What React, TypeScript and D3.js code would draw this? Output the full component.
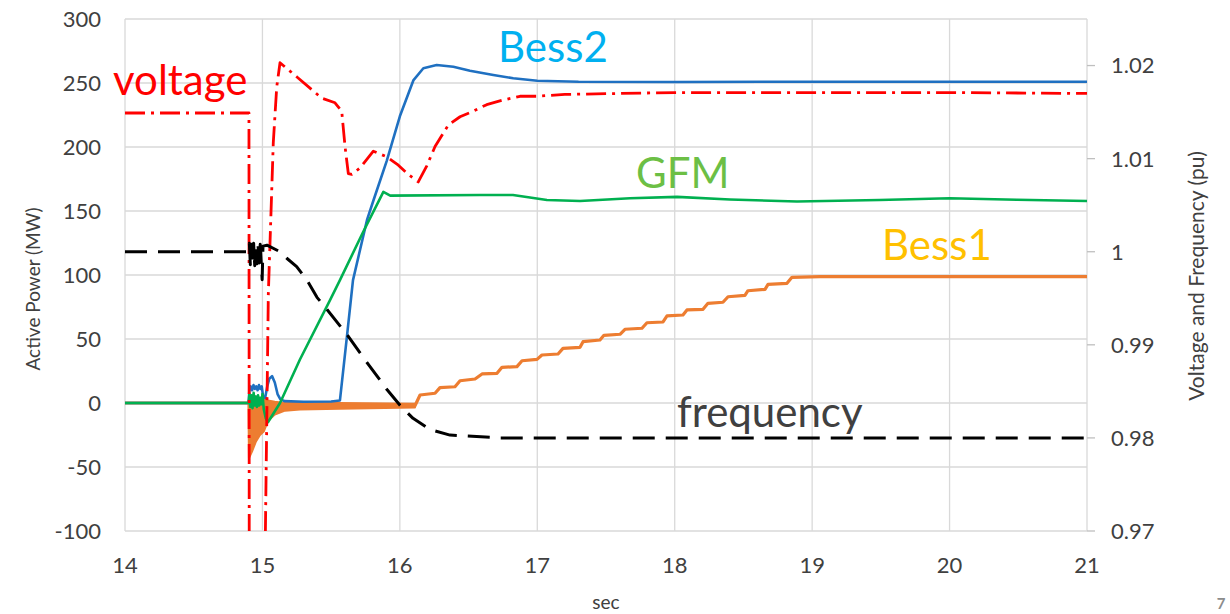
import * as d3 from "d3";

// seconds -> MW (left axis)
const bess2: [number, number][] = [
  [14, 0], [14.9, 0], [14.905, 10], [14.915, 13], [14.925, 10], [14.935, 14], [14.945, 11],
  [14.955, 13], [14.965, 10], [14.975, 14], [14.985, 11], [14.995, 13], [15.005, 5], [15.02, 4],
  [15.035, 13], [15.05, 19], [15.07, 21], [15.09, 16], [15.11, 7], [15.13, 3], [15.16, 1.5],
  [15.3, 1], [15.5, 1.2], [15.564, 2], [15.615, 52], [15.659, 96], [15.761, 143], [15.807, 158],
  [15.904, 189], [16.0, 224], [16.098, 252], [16.171, 261.5], [16.268, 264], [16.389, 262.7],
  [16.51, 259.6], [16.68, 256.3], [16.825, 253.7], [17.0, 251.8], [17.3, 251], [18, 250.8],
  [19, 251], [20, 251], [21, 251],
];

const gfm: [number, number][] = [
  [14, 0], [14.9, 0], [14.905, 7], [14.912, -3], [14.92, 6], [14.928, -4], [14.936, 8],
  [14.944, -2], [14.952, 5], [14.96, -3], [14.968, 6], [14.976, -2], [14.984, 4], [14.992, -1],
  [15.0, 7], [15.01, -5], [15.025, -12], [15.04, -15], [15.128, 0], [15.273, 34], [15.49, 80],
  [15.564, 96], [15.73, 133], [15.88, 165], [15.93, 162], [16.583, 162.5], [16.823, 162.5],
  [17.07, 158.6], [17.311, 157.8], [17.675, 160], [18.017, 161], [18.402, 159], [18.89, 157.4],
  [19.49, 158.6], [20.0, 160], [20.49, 158.8], [21, 157.8],
];

const bess1: [number, number][] = [
  [14, 0], [14.898, 0], [15.164, -3], [16.11, -2.1], [16.147, 6.25], [16.256, 7.6], [16.292, 12.0],
  [16.401, 12.7], [16.438, 17.4], [16.547, 18.75], [16.598, 22.7], [16.707, 23.2], [16.743, 27.9],
  [16.852, 28.4], [16.889, 33.0], [16.998, 34.1], [17.034, 37.5], [17.151, 38.3], [17.187, 42.7],
  [17.311, 43.5], [17.333, 47.9], [17.456, 49.2], [17.485, 52.9], [17.602, 53.7], [17.638, 57.6],
  [17.762, 58.4], [17.798, 62.7], [17.915, 63.3], [17.944, 68.0], [18.06, 68.75], [18.089, 72.7],
  [18.206, 73.2], [18.242, 77.9], [18.351, 78.7], [18.388, 83.0], [18.511, 84.1], [18.533, 87.7],
  [18.657, 88.8], [18.679, 92.7], [18.817, 93.5], [18.853, 98.2], [19.057, 98.7], [21, 98.7],
];

// noisy envelope of Bess1 right after the fault: [sec, low, high]
const bess1Noise: [number, number, number][] = [
  [14.898, 0, 0], [14.902, -43, 3], [14.924, -38, 5], [14.953, -30, 5], [14.982, -25, 4],
  [15.011, -22, 3], [15.04, -14, 2], [15.09, -9, 1], [15.164, -6, 0], [15.273, -5, 0],
  [15.56, -4.5, 0], [16.11, -3.5, -0.5],
];

// seconds -> pu (right axis)
const voltage: [number, number][] = [
  [14, 1.0149], [14.902, 1.0149], [14.904, 0.968], [15.02, 0.968], [15.043, 0.9955],
  [15.079, 1.0117], [15.104, 1.0177], [15.128, 1.0203], [15.249, 1.0188], [15.431, 1.0165],
  [15.528, 1.016], [15.577, 1.0151], [15.601, 1.0113], [15.625, 1.0084], [15.65, 1.0083],
  [15.71, 1.009], [15.807, 1.0108], [15.904, 1.0102], [15.989, 1.0093], [16.061, 1.0083],
  [16.134, 1.0075], [16.195, 1.0092], [16.256, 1.0113], [16.352, 1.0136], [16.438, 1.0145],
  [16.534, 1.0151], [16.632, 1.0158], [16.753, 1.0163], [16.874, 1.0167], [16.996, 1.0167],
  [17.2, 1.0169], [17.6, 1.017], [18, 1.0171], [19, 1.0171], [20, 1.0171], [21, 1.017],
];

const frequency: [number, number][] = [
  [14, 1.0], [14.9, 1.0], [14.905, 1.0009], [14.912, 0.9986], [14.92, 1.0008], [14.928, 0.9987],
  [14.936, 1.0009], [14.944, 0.9985], [14.952, 1.0008], [14.96, 0.9987], [14.968, 1.0007],
  [14.976, 0.9988], [14.984, 1.0008], [14.992, 0.9986], [14.998, 0.997], [15.004, 1.0006],
  [15.033, 1.0007], [15.128, 1.0], [15.177, 0.9993], [15.249, 0.9984], [15.322, 0.997],
  [15.397, 0.9951], [15.47, 0.9938], [15.615, 0.9911], [15.761, 0.9881], [15.906, 0.9852],
  [16.001, 0.9835], [16.096, 0.9821], [16.219, 0.9809], [16.365, 0.9803], [16.729, 0.98], [21, 0.98],
];

const xTicks = [14, 15, 16, 17, 18, 19, 20, 21];
const leftTicks = [-100, -50, 0, 50, 100, 150, 200, 250, 300];
const rightTicks = [0.97, 0.98, 0.99, 1, 1.01, 1.02];
const rightTickLabels = ["0.97", "0.98", "0.99", "1", "1.01", "1.02"];

const W = 1230;
const H = 614;
const left = 125, right = 1087, top = 19, bottom = 531;
const FONT = "Lato, 'Open Sans', sans-serif";

export default function App() {
  const x = d3.scaleLinear().domain([14, 21]).range([left, right]);
  const yL = d3.scaleLinear().domain([-100, 300]).range([bottom, top]);
  const yR = d3.scaleLinear().domain([0.97, 1.025]).range([bottom, top]);

  const lineL = d3.line<[number, number]>().x(d => x(d[0])).y(d => yL(d[1]));
  const lineR = d3.line<[number, number]>().x(d => x(d[0])).y(d => yR(d[1]));
  const band = d3.area<[number, number, number]>()
    .x(d => x(d[0])).y0(d => yL(d[1])).y1(d => yL(d[2]));

  return (
    <div style={{ position: "absolute", left: 0, top: 0 }}>
      <svg width={W} height={H} style={{ display: "block", background: "#fff" }} fontFamily={FONT}>
        <defs>
          <clipPath id="plot">
            <rect x={left} y={top} width={right - left} height={bottom - top} />
          </clipPath>
        </defs>

        {/* grid */}
        {leftTicks.map(v => (
          <line key={"h" + v} x1={left} x2={right} y1={yL(v)} y2={yL(v)} stroke="#d9d9d9" strokeWidth={1.3} />
        ))}
        {xTicks.map(t => (
          <line key={"v" + t} x1={x(t)} x2={x(t)} y1={top} y2={bottom} stroke="#d9d9d9" strokeWidth={1.3} />
        ))}
        {rightTicks.map(v => (
          <line key={"rt" + v} x1={right} x2={right + 8} y1={yR(v)} y2={yR(v)} stroke="#bfbfbf" strokeWidth={1.3} />
        ))}

        {/* series */}
        <g clipPath="url(#plot)" fill="none" strokeLinejoin="round">
          <path d={band(bess1Noise) ?? ""} fill="#ED7D31" stroke="#ED7D31" strokeWidth={2} />
          <path d={lineL(bess1) ?? ""} stroke="#ED7D31" strokeWidth={3.2} />
          <path d={lineL(bess2) ?? ""} stroke="#1F70C1" strokeWidth={2.6} />
          <path d={lineL(gfm) ?? ""} stroke="#00B050" strokeWidth={2.6} />
          <path d={lineR(voltage) ?? ""} stroke="#FF0000" strokeWidth={2.8} strokeDasharray="20 6 3 6" />
          <path d={lineR(frequency) ?? ""} stroke="#000" strokeWidth={3} strokeDasharray="22 11" />
        </g>

        {/* tick labels */}
        <g fontSize={22} fill="#404040">
          {leftTicks.map(v => (
            <text key={"l" + v} x={101} y={yL(v)} dy="0.36em" textAnchor="end">{v}</text>
          ))}
          {xTicks.map(t => (
            <text key={"x" + t} x={x(t)} y={573} textAnchor="middle">{t}</text>
          ))}
          {rightTicks.map((v, i) => (
            <text key={"r" + v} x={1111} y={yR(v)} dy="0.36em">{rightTickLabels[i]}</text>
          ))}
        </g>

        {/* axis titles */}
        <text transform={`translate(40,${(top + bottom) / 2 + 14}) rotate(-90)`} textAnchor="middle" fontSize={19} fill="#404040">
          Active Power (MW)
        </text>
        <text transform={`translate(1204,276) rotate(-90)`} textAnchor="middle" fontSize={21} fill="#404040">
          Voltage and Frequency (pu)
        </text>
        <text x={606} y={609} textAnchor="middle" fontSize={19} fill="#404040">sec</text>
        <text x={1221} y={609} textAnchor="middle" fontSize={15} fontWeight="bold" fill="#8c8c8c">7</text>

        {/* annotations */}
        <g fontSize={42}>
          <text x={113} y={95} fill="#FF0000">voltage</text>
          <text x={498} y={62} fill="#00B0F0">Bess2</text>
          <text x={636} y={188} fill="#6CBF45">GFM</text>
          <text x={882} y={260} fill="#FFC000">Bess1</text>
          <text x={677} y={427} fill="#404040">frequency</text>
        </g>
      </svg>
    </div>
  );
}
